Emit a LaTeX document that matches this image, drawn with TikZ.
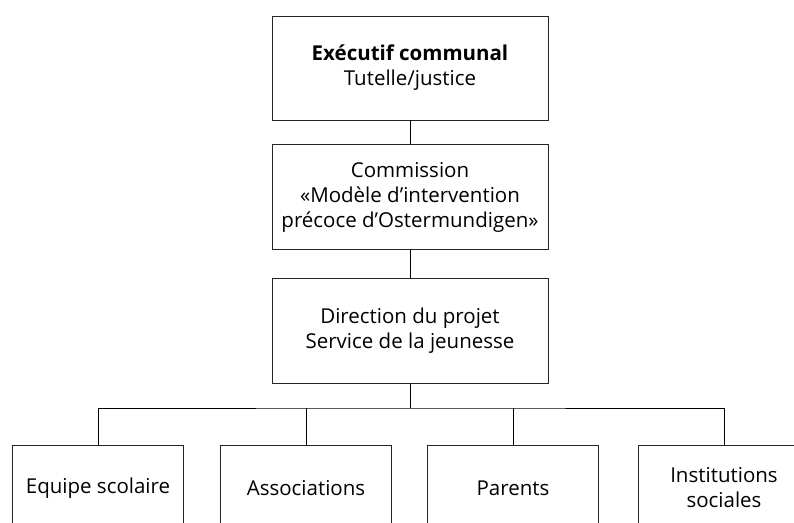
\documentclass[tikz,border=0pt]{standalone}
\usepackage{fontspec}
\setmainfont{Open Sans}
\begin{document}
\begin{tikzpicture}[x=1pt,y=-1pt,
  box/.style={draw=black!85, line width=0.9pt, rectangle, align=center, inner sep=0pt,
    font=\fontsize{20.5}{25}\selectfont},
  link/.style={draw=black, line width=0.9pt}]
\useasboundingbox (0,0) rectangle (794,522);
\clip (0,0) rectangle (794,522);
\node[box, minimum width=276, minimum height=104] (exec) at (410,68) {\textbf{Exécutif communal}\\Tutelle/justice};
\node[box, minimum width=276, minimum height=105] (comm) at (410,197) {Commission\\«Modèle d’intervention\\précoce d’Ostermundigen»};
\node[box, minimum width=276, minimum height=105] (dir) at (410,331) {Direction du projet\\Service de la jeunesse};
\node[box, minimum width=171, minimum height=86] (b1) at (98,488) {Equipe scolaire};
\node[box, minimum width=171, minimum height=86] (b2) at (306,488) {Associations};
\node[box, minimum width=171, minimum height=86] (b3) at (513,488) {Parents};
\node[box, minimum width=171, minimum height=86] (b4) at (724,488) {Institutions\\sociales};
\coordinate (bar) at (410,408);
\draw[link] (exec) -- (comm);
\draw[link] (comm) -- (dir);
\draw[link] (dir) -- (bar);
\draw[link] (b1.north) |- (bar) -| (b4.north);
\draw[link] (b2.north) -- (b2.north |- bar);
\draw[link] (b3.north) -- (b3.north |- bar);
\end{tikzpicture}
\end{document}
